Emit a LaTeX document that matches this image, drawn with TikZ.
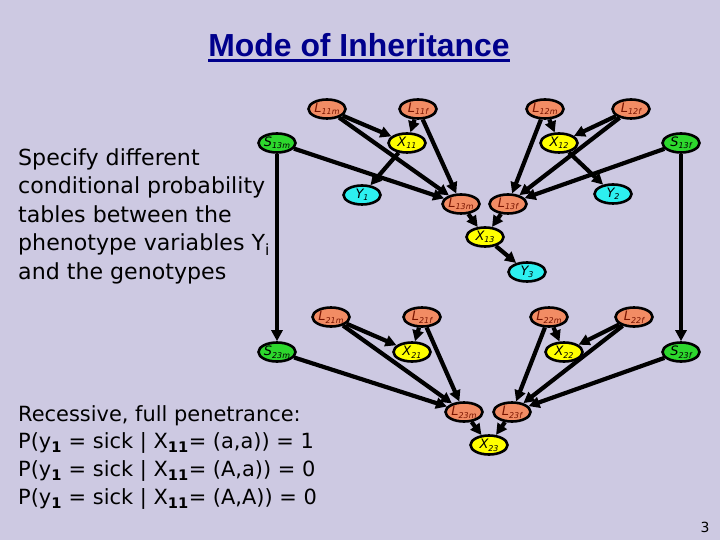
\documentclass[tikz,border=0pt]{standalone}
\usepackage{fontspec}
\setmainfont{DejaVu Sans}
\newfontfamily\titlefont{Liberation Sans}
\usetikzlibrary{shapes.geometric,arrows.meta}
\pgfdeclarelayer{bg}
\pgfsetlayers{bg,main}
\definecolor{bgc}{RGB}{205,201,226}
\definecolor{lfill}{RGB}{242,140,100}
\definecolor{sfill}{RGB}{45,215,45}
\definecolor{xfill}{RGB}{255,255,0}
\definecolor{yfill}{RGB}{45,240,240}
\definecolor{ltext}{RGB}{120,20,0}
\definecolor{navy}{RGB}{0,0,140}
\newcommand\nlab[2]{\makebox[0pt]{\raisebox{-3.5bp}[0pt][0pt]{\fontsize{13}{13}\selectfont\itshape #1\raisebox{-2.5bp}{\fontsize{8}{8}\selectfont #2}}}}
\newcommand\bsub[1]{\textsubscript{\bfseries #1}}
\begin{document}
\begin{tikzpicture}[x=1bp,y=-1bp,
  gnode/.style={ellipse, draw=black, line width=2.6bp, minimum width=37bp, minimum height=19bp, inner sep=0pt},
  lnode/.style={gnode, fill=lfill, text=ltext},
  snode/.style={gnode, fill=sfill},
  xnode/.style={gnode, fill=xfill},
  ynode/.style={gnode, fill=yfill},
  edge/.style={line width=4.2bp, -{Triangle[length=11bp,width=11bp]}},
  txt/.style={anchor=north west, align=left, inner sep=0pt}]
\useasboundingbox (0,0) rectangle (720,540);
% title
\node[font=\titlefont\bfseries\fontsize{32}{32}\selectfont, text=navy, inner sep=0pt, anchor=base] (title) at (359,57) {Mode of Inheritance};
\draw[navy, line width=2.5bp] ([yshift=-3.5bp]title.base west) -- ([yshift=-3.5bp]title.base east);
% texts
\node[txt, font=\fontsize{22.2}{28.7}\selectfont] (spec) at (18,148) {Specify different\\conditional probability\\tables between the\\phenotype variables Y\textsubscript{i}\\and the genotypes};
\node[txt, font=\fontsize{21}{28}\selectfont] (rec) at (18,405) {Recessive, full penetrance:\\P(y\bsub{1} = sick | X\bsub{11}= (a,a)) = 1\\P(y\bsub{1} = sick | X\bsub{11}= (A,a)) = 0\\P(y\bsub{1} = sick | X\bsub{11}= (A,A)) = 0};
\node[font=\fontsize{14}{14}\selectfont, inner sep=0pt] (pg) at (705,527) {3};
% nodes
\node[lnode] (L11m) at (327,109) {\nlab{L}{11m}};
\node[lnode] (L11f) at (418,109) {\nlab{L}{11f}};
\node[lnode] (L12m) at (545,109) {\nlab{L}{12m}};
\node[lnode] (L12f) at (631,109) {\nlab{L}{12f}};
\node[snode] (S13m) at (277,143) {\nlab{S}{13m}};
\node[xnode] (X11) at (407,143) {\nlab{X}{11}};
\node[xnode] (X12) at (559,143) {\nlab{X}{12}};
\node[snode] (S13f) at (681,143) {\nlab{S}{13f}};
\node[ynode] (Y1) at (362,195) {\nlab{Y}{1}};
\node[ynode] (Y2) at (613,194) {\nlab{Y}{2}};
\node[lnode] (L13m) at (461,204) {\nlab{L}{13m}};
\node[lnode] (L13f) at (508,204) {\nlab{L}{13f}};
\node[xnode] (X13) at (485,237) {\nlab{X}{13}};
\node[ynode] (Y3) at (527,272) {\nlab{Y}{3}};
\node[lnode] (L21m) at (331,317) {\nlab{L}{21m}};
\node[lnode] (L21f) at (422,317) {\nlab{L}{21f}};
\node[lnode] (L22m) at (549,317) {\nlab{L}{22m}};
\node[lnode] (L22f) at (634,317) {\nlab{L}{22f}};
\node[snode] (S23m) at (277,352) {\nlab{S}{23m}};
\node[xnode] (X21) at (412,352) {\nlab{X}{21}};
\node[xnode] (X22) at (564,352) {\nlab{X}{22}};
\node[snode] (S23f) at (681,352) {\nlab{S}{23f}};
\node[lnode] (L23m) at (464,412) {\nlab{L}{23m}};
\node[lnode] (L23f) at (512,412) {\nlab{L}{23f}};
\node[xnode] (X23) at (489,445) {\nlab{X}{23}};
% edges
\begin{pgfonlayer}{bg}
\fill[bgc] (0,0) rectangle (720,540);
\draw[edge] (L11m) -- (X11);
\draw[edge] (L11f) -- (X11);
\draw[edge] (L11m) -- (L13m);
\draw[edge] (L11f) -- (L13m);
\draw[edge] (S13m) -- (L13m);
\draw[edge] (X11) -- (Y1);
\draw[edge] (L12m) -- (X12);
\draw[edge] (L12f) -- (X12);
\draw[edge] (L12m) -- (L13f);
\draw[edge] (L12f) -- (L13f);
\draw[edge] (S13f) -- (L13f);
\draw[edge] (X12) -- (Y2);
\draw[edge] (L13m) -- (X13);
\draw[edge] (L13f) -- (X13);
\draw[edge] (X13) -- (Y3);
\draw[edge] (S13m) -- (S23m);
\draw[edge] (S13f) -- (S23f);
\draw[edge] (L21m) -- (X21);
\draw[edge] (L21f) -- (X21);
\draw[edge] (L21m) -- (L23m);
\draw[edge] (L21f) -- (L23m);
\draw[edge] (S23m) -- (L23m);
\draw[edge] (L22m) -- (X22);
\draw[edge] (L22f) -- (X22);
\draw[edge] (L22m) -- (L23f);
\draw[edge] (L22f) -- (L23f);
\draw[edge] (S23f) -- (L23f);
\draw[edge] (L23m) -- (X23);
\draw[edge] (L23f) -- (X23);
\end{pgfonlayer}
\end{tikzpicture}
\end{document}
